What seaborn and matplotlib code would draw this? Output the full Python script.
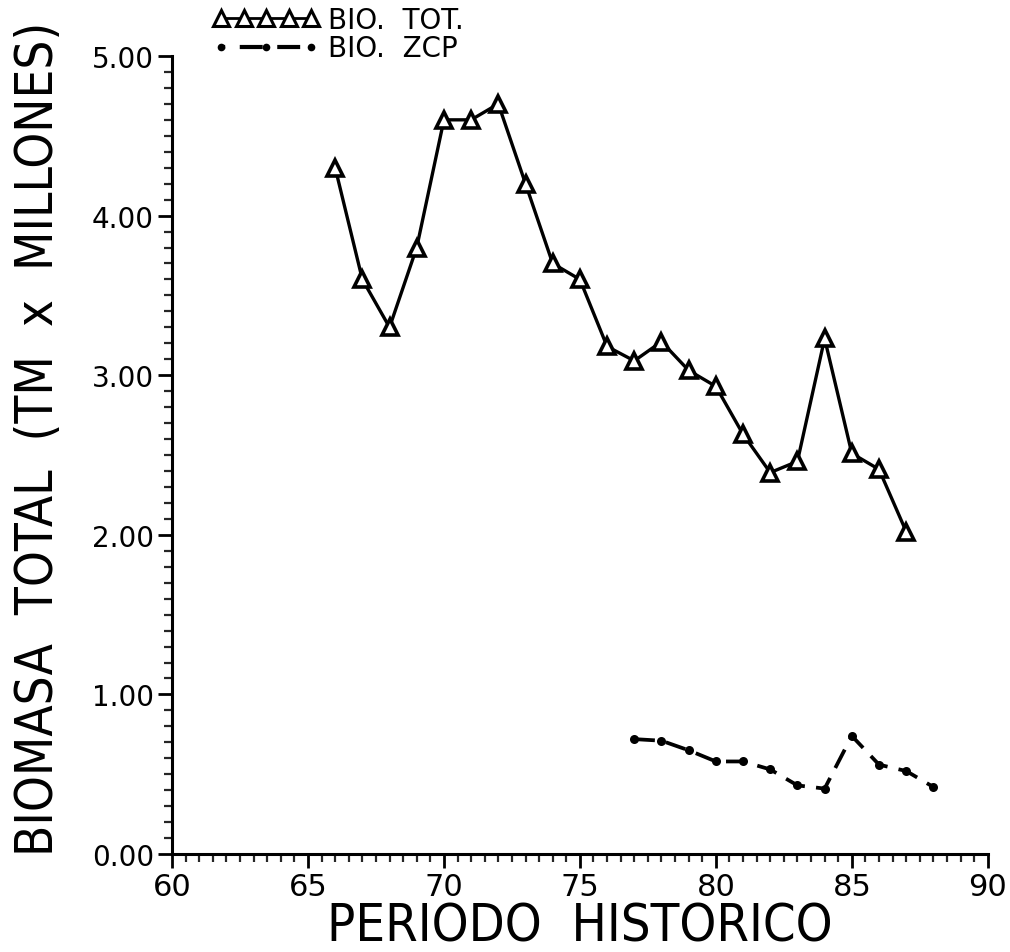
import matplotlib
matplotlib.use("Agg")
import matplotlib.pyplot as plt
import seaborn as sns
import pandas as pd
from matplotlib.ticker import MultipleLocator, FormatStrFormatter
from matplotlib.lines import Line2D
from matplotlib.legend_handler import HandlerLine2D

# ---- data ----
years_tot = [66, 67, 68, 69, 70, 71, 72, 73, 74, 75, 76, 77, 78, 79, 80, 81, 82, 83, 84, 85, 86, 87]
bio_tot = [4.30, 3.60, 3.30, 3.80, 4.60, 4.60, 4.70, 4.20, 3.70, 3.60, 3.18, 3.09, 3.21, 3.03, 2.93, 2.63, 2.39, 2.46, 3.23, 2.51, 2.41, 2.02]
years_zcp = [77, 78, 79, 80, 81, 82, 83, 84, 85, 86, 87, 88]
bio_zcp = [0.72, 0.71, 0.65, 0.58, 0.58, 0.53, 0.43, 0.41, 0.74, 0.56, 0.52, 0.42]
label_tot = "BIO.  TOT."
label_zcp = "BIO.  ZCP"
xlabel = "PERIODO  HISTORICO"
ylabel = "BIOMASA  TOTAL  (TM  x  MILLONES)"

sns.set_style("ticks")
plt.rcParams['font.family'] = ['DejaVu Sans']
plt.rcParams['text.color'] = 'black'
plt.rcParams['axes.labelcolor'] = 'black'

fig = plt.figure(figsize=(10.10, 9.53), dpi=100)
ax = fig.add_axes([0.1703, 0.1028, 0.8077, 0.8374])

df_tot = pd.DataFrame({"x": years_tot, "y": bio_tot})
df_zcp = pd.DataFrame({"x": years_zcp, "y": bio_zcp})

sns.lineplot(data=df_tot, x="x", y="y", ax=ax, color="black", lw=2.4,
             marker="^", markersize=12, markerfacecolor="white",
             markeredgecolor="black", markeredgewidth=2.6)
sns.lineplot(data=df_zcp, x="x", y="y", ax=ax, color="black", lw=2.7,
             marker="o", markersize=6.5, markeredgewidth=0)
ax.lines[-1].set_linestyle((0, (5.5, 3)))

ax.set_xlim(60, 90)
ax.set_ylim(0, 5)
ax.xaxis.set_major_locator(MultipleLocator(5))
ax.xaxis.set_minor_locator(MultipleLocator(0.5))
ax.yaxis.set_major_locator(MultipleLocator(1))
ax.yaxis.set_minor_locator(MultipleLocator(0.1))
ax.yaxis.set_major_formatter(FormatStrFormatter("%.2f"))
sns.despine(ax=ax)
for s in ["left", "bottom"]:
    ax.spines[s].set_linewidth(2.2)
    ax.spines[s].set_color("black")

ax.tick_params(axis="both", which="major", direction="out", length=10, width=2,
               labelsize=20, colors="black", pad=3)
ax.tick_params(axis="both", which="minor", direction="out", length=6, width=1.6)
ax.tick_params(axis="x", which="major", labelsize=22, pad=3)

lab_kw = dict(family=['DejaVu Sans'], fontstretch='condensed', fontweight='light', color='black')
xl = ax.set_xlabel(xlabel, fontsize=36, labelpad=0, **lab_kw)
yl = ax.set_ylabel(ylabel, fontsize=36, **lab_kw)

# fit label sizes to the reference extents (pixels)
fig.canvas.draw()
r = fig.canvas.get_renderer()
wx = xl.get_window_extent(r).width
xl.set_fontsize(36 * 505.0 / wx)
hy = yl.get_window_extent(r).height
yl.set_fontsize(36 * 835.0 / hy)
ax.xaxis.set_label_coords(0.5, -0.060)
ax.yaxis.set_label_coords(-0.133, 0.522)
yl.set_va('bottom')
xl.set_va('top')

h1 = Line2D([], [], color="black", lw=2, marker="^", markersize=11,
            markerfacecolor="white", markeredgecolor="black", markeredgewidth=2.2)
h2 = Line2D([], [], color="black", lw=3, marker="o", markersize=5.5,
            markeredgewidth=0, linestyle=(4.5, (5.5, 3.5)))
ax.legend([h1, h2], [label_tot, label_zcp], loc="lower left",
          bbox_to_anchor=(0.050, 0.992), frameon=False, fontsize=20,
          numpoints=5, handlelength=3.85, handletextpad=0.3, labelspacing=0.03,
          borderaxespad=0, borderpad=0,
          handler_map={h2: HandlerLine2D(numpoints=3)})

fig.savefig("out.png", dpi=100)
